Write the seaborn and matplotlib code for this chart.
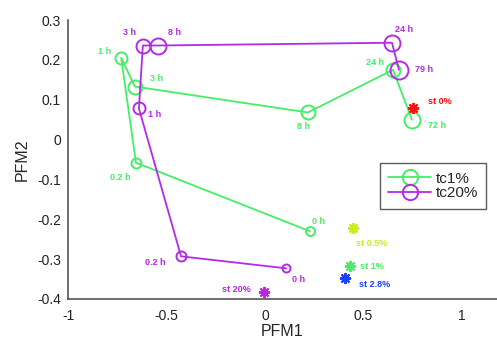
import numpy as np
import pandas as pd
import matplotlib
matplotlib.use("Agg")
import matplotlib.pyplot as plt
from matplotlib.lines import Line2D
import seaborn as sns

sns.set_style("white")
plt.rcParams['font.family'] = ['Liberation Sans', 'DejaVu Sans']

# tc1% time course
tc1_labels = ["0 h", "0.2 h", "1 h", "3 h", "8 h", "24 h", "72 h"]
tc1_pfm1 = [0.228, -0.655, -0.73, -0.66, 0.218, 0.65, 0.746]
tc1_pfm2 = [-0.23, -0.058, 0.205, 0.133, 0.068, 0.175, 0.05]

# tc20% time course
tc20_labels = ["0 h", "0.2 h", "1 h", "3 h", "8 h", "24 h", "79 h"]
tc20_pfm1 = [0.107, -0.426, -0.64, -0.62, -0.543, 0.645, 0.68]
tc20_pfm2 = [-0.323, -0.293, 0.078, 0.236, 0.236, 0.243, 0.175]

# steady states
st_labels = ["st 0%", "st 0.5%", "st 1%", "st 2.8%", "st 20%"]
st_pfm1 = [0.75, 0.447, 0.43, 0.406, -0.005]
st_pfm2 = [0.08, -0.223, -0.316, -0.348, -0.383]

# styling
green = "#44ee66"
purple = "#b52ae8"
st_colors = ["#ff1010", "#c8ee20", "#44ee66", "#1a40ff", "#c020e8"]
tc1_msize = [9, 10, 12, 14, 14, 14, 16]
tc20_msize = [8, 10, 12, 14, 16, 16, 18]
tc1_off = [(9, 10), (-16, -15), (-17, 6), (22, 8), (-4, -14), (-18, 7), (25, -6)]
tc20_off = [(13, -11), (-26, -6), (16, -6), (-13, 13), (17, 13), (12, 13), (25, 0)]
st_off = [(27, 6), (19, -15), (22, -1), (30, -6), (-28, 3)]

fig = plt.figure(figsize=(4.97, 3.43), dpi=100)
ax = fig.add_axes([68 / 497, 44 / 343, 1 - 68 / 497, 279 / 343])

for xs, ys, col, ms, labs, offs in [
        (tc1_pfm1, tc1_pfm2, green, tc1_msize, tc1_labels, tc1_off),
        (tc20_pfm1, tc20_pfm2, purple, tc20_msize, tc20_labels, tc20_off)]:
    df = pd.DataFrame({"x": xs, "y": ys})
    sns.lineplot(data=df, x="x", y="y", sort=False, estimator=None, color=col,
                 lw=1.3, ax=ax)
    for x, y, m, lab, off in zip(xs, ys, ms, labs, offs):
        ax.plot(x, y, "o", ms=m * 0.72, mfc="none", mec=col, mew=1.4)
        ax.annotate(lab, (x, y), xytext=off, textcoords="offset pixels",
                    ha="center", va="center", color=col, fontsize=6.5,
                    fontweight="bold")

for x, y, col, lab, off in zip(st_pfm1, st_pfm2, st_colors, st_labels, st_off):
    ax.plot(x, y, marker=(8, 2, 0), ms=8, mec=col, mew=1.4, ls="none")
    ax.annotate(lab, (x, y), xytext=off, textcoords="offset pixels",
                ha="center", va="center", color=col, fontsize=6.5,
                fontweight="bold")

ax.set_xlim(-1, 1.178)
ax.set_ylim(-0.4, 0.3)
ax.set_xticks([-1, -0.5, 0, 0.5, 1])
ax.set_xticklabels(["-1", "-0.5", "0", "0.5", "1"])
ax.set_yticks(np.arange(-0.4, 0.31, 0.1))
ax.set_yticklabels(["-0.4", "-0.3", "-0.2", "-0.1", "0", "0.1", "0.2", "0.3"])
ax.set_xlabel("PFM1", fontsize=11.5, labelpad=1)
ax.set_ylabel("PFM2", fontsize=11.5, labelpad=5)
ax.tick_params(direction="in", length=4, width=1, labelsize=10, colors="#222222")
ax.tick_params(axis="x", pad=7)
ax.tick_params(axis="y", pad=5)
for s in ["top", "right"]:
    ax.spines[s].set_visible(False)
for s in ["left", "bottom"]:
    ax.spines[s].set_color("#555555")
    ax.spines[s].set_linewidth(1.2)

handles = [Line2D([], [], color=green, lw=1.3, marker="o", ms=11, mfc="none", mew=1.4),
           Line2D([], [], color=purple, lw=1.3, marker="o", ms=11, mfc="none", mew=1.4)]
leg = ax.legend(handles, ["tc1%", "tc20%"], loc="upper left",
                bbox_to_anchor=(0.727, 0.487), fontsize=11,
                frameon=True, fancybox=False, edgecolor="#333333",
                handlelength=2.8, handletextpad=0.3, borderpad=0.55,
                labelspacing=0.05, borderaxespad=0)
leg.get_frame().set_linewidth(1.0)

fig.savefig("out.png", dpi=100)
